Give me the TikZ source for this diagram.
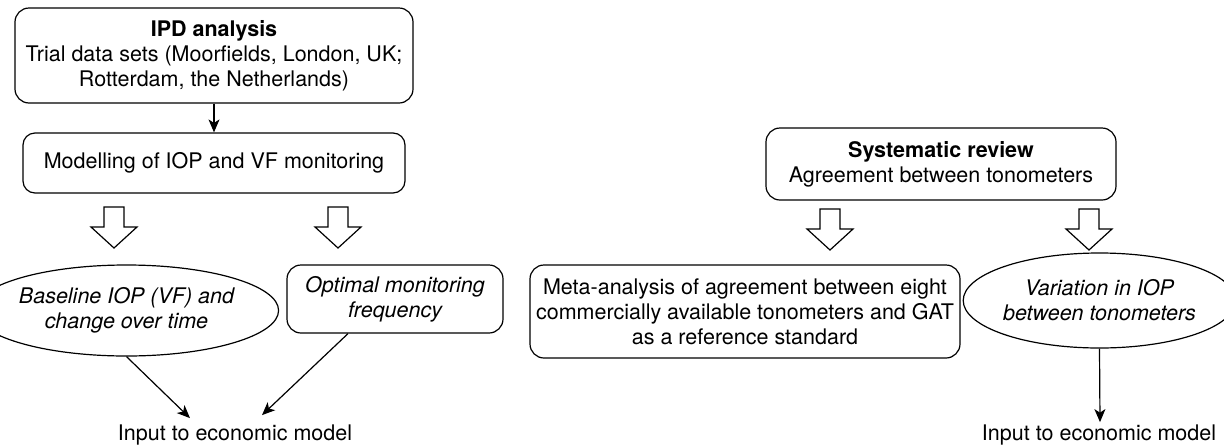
\documentclass[tikz,border=0pt]{standalone}
\usepackage{fontspec}
\setmainfont{TeX Gyre Heros}
\usetikzlibrary{shapes.geometric,arrows.meta,calc}
\begin{document}
\begin{tikzpicture}[x=1pt,y=-1pt,
  every node/.style={font=\fontsize{21.5}{25}\selectfont, align=center, inner sep=0pt},
  rbox/.style={draw, rounded corners=14pt, line width=1.2pt},
  oval/.style={draw, ellipse, line width=1.2pt},
  conn/.style={line width=1.2pt, -{Stealth[length=13pt,width=11pt,inset=3.5pt]}},
  blockarrow/.pic={
    \draw[line width=1.2pt, line join=miter]
      (-10,0) -- (10,0) -- (10,20) -- (23,20) -- (0,41) -- (-23,20) -- (-10,20) -- cycle;
  }]
\useasboundingbox (0,0) rectangle (1224,445);

% left branch: individual patient data
\node[rbox, minimum width=398pt, minimum height=95pt] (ipd) at (214,55.5)
  {\textbf{IPD analysis}\\Trial data sets (Moorfields, London, UK;\\Rotterdam, the Netherlands)};
\node[rbox, rounded corners=12pt, minimum width=382pt, minimum height=60pt] (mod) at (214,163)
  {Modelling of IOP and VF monitoring};
\pic at (114,207) {blockarrow};
\pic at (338,207) {blockarrow};
\node[oval, minimum width=241pt, minimum height=91pt] (ellL) at (126.5,310.5)
  {\itshape Baseline IOP (VF) and\\\itshape change over time};
\node[rbox, minimum width=216pt, minimum height=68pt] (opt) at (395,299)
  {\itshape Optimal monitoring\\\itshape frequency};
\node[anchor=base] (in1) at (235,440) {Input to economic model};

% right branch: systematic review
\node[rbox, minimum width=350pt, minimum height=72pt] (sys) at (941,164)
  {\textbf{Systematic review}\\Agreement between tonometers};
\pic at (830,209) {blockarrow};
\pic at (1089,209) {blockarrow};
\node[rbox, minimum width=430pt, minimum height=93pt] (meta) at (745,311.5)
  {Meta-analysis of agreement between eight\\commercially available tonometers and GAT\\as a reference standard};
\node[oval, minimum width=246pt, minimum height=95pt] (ellR) at (1099.5,300.5)
  {\itshape Variation in IOP\\\itshape between tonometers};
\node[anchor=base] (in2) at (1099,440) {Input to economic model};

% connectors
\draw[conn] (ipd.south) -- (mod.north);
\draw[conn] (ellL.south) -- ([xshift=-45pt,yshift=6pt]in1.north);
\draw[conn] ([xshift=-47pt]opt.south) -- ([xshift=27pt,yshift=9pt]in1.north);
\draw[conn] (ellR.south) -- ([xshift=1pt,yshift=2pt]in2.north);
\end{tikzpicture}
\end{document}
